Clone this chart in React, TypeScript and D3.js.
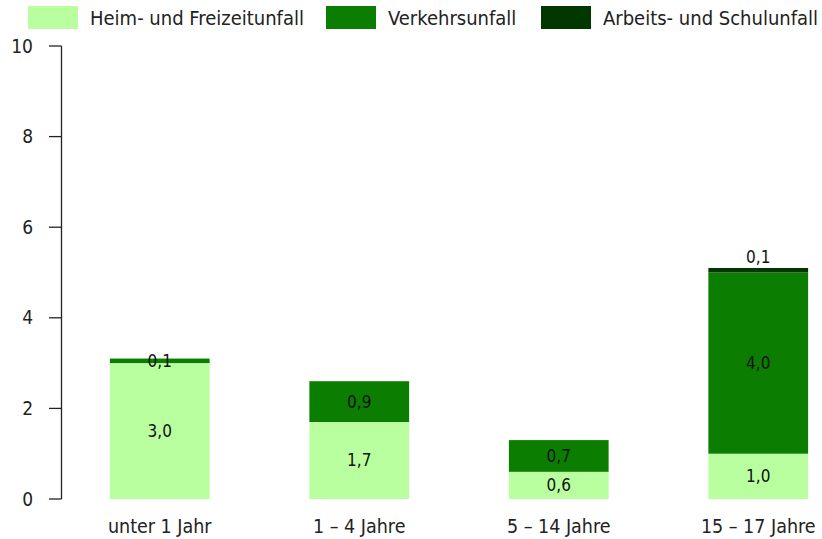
import * as d3 from "d3";

const w = 822;
const h = 539;
const font = "'Liberation Sans Narrow', 'DejaVu Sans Condensed', 'Liberation Sans', sans-serif";

const categories = ["unter 1 Jahr", "1 – 4 Jahre", "5 – 14 Jahre", "15 – 17 Jahre"];
const seriesNames = ["Heim- und Freizeitunfall", "Verkehrsunfall", "Arbeits- und Schulunfall"];
const seriesColors = ["#b9ffa0", "#0b7d00", "#003800"];
const heim = [3.0, 1.7, 0.6, 1.0];
const verkehr = [0.1, 0.9, 0.7, 4.0];
const arbeit = [0, 0, 0, 0.1];
const yTicks = [0, 2, 4, 6, 8, 10];

const rows = categories.map((c, i) => ({ cat: c, s0: heim[i], s1: verkehr[i], s2: arbeit[i] }));
const stack = d3.stack<any>().keys(["s0", "s1", "s2"]);
const stacked = stack(rows);

const x = d3.scaleBand().domain(categories).range([60, 858]).paddingInner(0.5).paddingOuter(0.25);
const y = d3.scaleLinear().domain([0, 10]).range([499, 46]);

const fmt = (v: number) => v.toFixed(1).replace(".", ",");

const legendX = [28, 326, 541];

function App() {
  return (
    <svg width={w} height={h} style={{ position: "absolute", left: 0, top: 0 }} fontFamily={font}>
      {/* legend */}
      {seriesNames.map((name, i) => (
        <g key={name} transform={`translate(${legendX[i]},6)`}>
          <rect width={50} height={23} fill={seriesColors[i]} />
          <text x={62} y={18.5} fontSize={20} fill="#222">
            {name}
          </text>
        </g>
      ))}

      {/* y axis */}
      <line x1={61.5} x2={61.5} y1={y(10)} y2={y(0)} stroke="#222" strokeWidth={1.3} />
      {yTicks.map((t) => (
        <g key={t}>
          <line x1={49} x2={61.5} y1={y(t)} y2={y(t)} stroke="#222" strokeWidth={1.3} />
          <text x={33} y={y(t)} dy="0.35em" textAnchor="end" fontSize={19} fill="#222">
            {t}
          </text>
        </g>
      ))}

      {/* bars */}
      {stacked.map((layer, si) =>
        layer.map((d, ci) => {
          const v = d[1] - d[0];
          if (v <= 0) return null;
          const bx = x(categories[ci])!;
          const top = y(d[1]);
          const bh = y(d[0]) - y(d[1]);
          const labelY = si === 2 ? top - 11 : top + bh / 2;
          return (
            <g key={`${si}-${ci}`}>
              <rect x={bx} y={top} width={x.bandwidth()} height={bh} fill={seriesColors[si]} />
              <text
                x={bx + x.bandwidth() / 2}
                y={labelY}
                dy="0.35em"
                textAnchor="middle"
                fontSize={17}
                fill="#111"
              >
                {fmt(v)}
              </text>
            </g>
          );
        })
      )}

      {/* x labels */}
      {categories.map((c) => (
        <text key={c} x={x(c)! + x.bandwidth() / 2} y={526} dy="0.35em" textAnchor="middle" fontSize={19.5} fill="#222">
          {c}
        </text>
      ))}
    </svg>
  );
}

export default App;
